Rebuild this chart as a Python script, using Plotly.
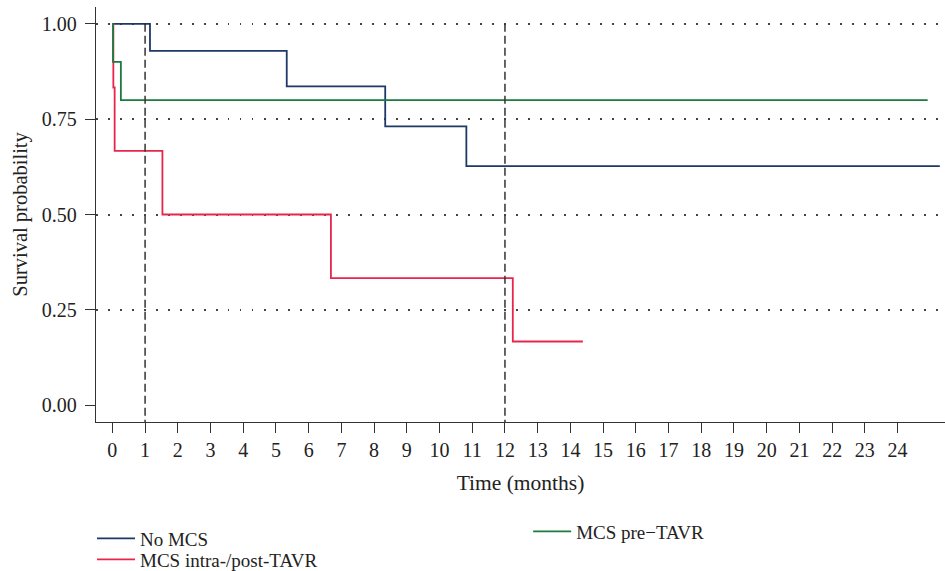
import plotly.graph_objects as go

# ---- data ----
no_mcs_time = [0, 1.15, 5.33, 8.34, 10.82, 25.29]
no_mcs_surv = [1.0, 0.929, 0.836, 0.731, 0.627, 0.627]

pre_tavr_time = [0, 0.02, 0.26, 24.92]
pre_tavr_surv = [1.0, 0.9, 0.8, 0.8]

intra_post_time = [0, 0.03, 0.07, 1.53, 6.68, 12.24, 14.38]
intra_post_surv = [1.0, 0.833, 0.667, 0.5, 0.333, 0.167, 0.167]

landmark_months = [1, 12]
x_ticks = list(range(0, 25))
y_ticks = [0.0, 0.25, 0.5, 0.75, 1.0]
y_grid = [0.25, 0.5, 0.75, 1.0]

names = ["No MCS", "MCS intra-/post-TAVR", "MCS pre\u2212TAVR"]
colors = ["#1f3868", "#e8264c", "#1b7a3e"]

FONT = "Liberation Serif"
Y_RANGE = [-0.044, 1.044]
X_RANGE = [-0.5, 25.45]

fig = go.Figure()
fig.add_trace(go.Scatter(x=no_mcs_time, y=no_mcs_surv, mode="lines", line_shape="hv",
                         line=dict(color=colors[0], width=1.8), name=names[0], legend="legend"))
fig.add_trace(go.Scatter(x=intra_post_time, y=intra_post_surv, mode="lines", line_shape="hv",
                         line=dict(color=colors[1], width=1.8), name=names[1], legend="legend2"))
fig.add_trace(go.Scatter(x=pre_tavr_time, y=pre_tavr_surv, mode="lines", line_shape="hv",
                         line=dict(color=colors[2], width=1.8), name=names[2], legend="legend3"))

for m in landmark_months:
    fig.add_shape(type="line", xref="x", yref="y", x0=m, x1=m, y0=1.0, y1=Y_RANGE[0],
                  line=dict(color="#333333", width=1.5, dash="8px,4px"), layer="above")

legend_common = dict(font=dict(family=FONT, size=19, color="#222222"), bgcolor="rgba(0,0,0,0)",
                     xanchor="left", yanchor="middle", itemwidth=38)

fig.update_layout(
    width=945, height=571,
    margin=dict(l=96, r=0, t=7, b=149, autoexpand=False),
    paper_bgcolor="white", plot_bgcolor="white",
    font=dict(family=FONT, size=20, color="#222222"),
    xaxis=dict(range=X_RANGE, tickvals=x_ticks, ticktext=[str(v) for v in x_ticks],
               showgrid=False, zeroline=False, showline=True, linecolor="#333333", linewidth=1.3,
               ticks="outside", ticklen=10, tickwidth=1.3, tickcolor="#333333", automargin=False,
               tickfont=dict(family=FONT, size=20, color="#222222"),
               title=dict(text="Time (months)", font=dict(family=FONT, size=21.5, color="#222222"), standoff=14)),
    yaxis=dict(range=Y_RANGE, tickvals=y_ticks, ticktext=["%.2f" % v for v in y_ticks],
               showgrid=False, zeroline=False, showline=True, linecolor="#333333", linewidth=1.3,
               ticks="outside", ticklen=10, tickwidth=1.3, tickcolor="#333333", automargin=False,
               ticklabelstandoff=4,
               tickfont=dict(family=FONT, size=20, color="#222222"),
               title=dict(text="Survival probability", font=dict(family=FONT, size=20.5, color="#222222"), standoff=8)),
    yaxis2=dict(range=Y_RANGE, overlaying="y", tickvals=y_grid, showticklabels=False, ticks="",
                showgrid=True, gridcolor="#444444", gridwidth=1.5, griddash="1.5px,10.5px",
                zeroline=False, showline=False, automargin=False),
    legend=dict(x=-0.0047, y=-0.2807, **legend_common),
    legend2=dict(x=-0.0047, y=-0.3313, **legend_common),
    legend3=dict(x=0.509, y=-0.2639, **legend_common),
)

# invisible trace to activate yaxis2 grid
fig.add_trace(go.Scatter(x=[None], y=[None], yaxis="y2", showlegend=False, hoverinfo="skip"))

fig.write_html("out.html", config={"displayModeBar": False},
               post_script="document.body.style.margin='0px';")
